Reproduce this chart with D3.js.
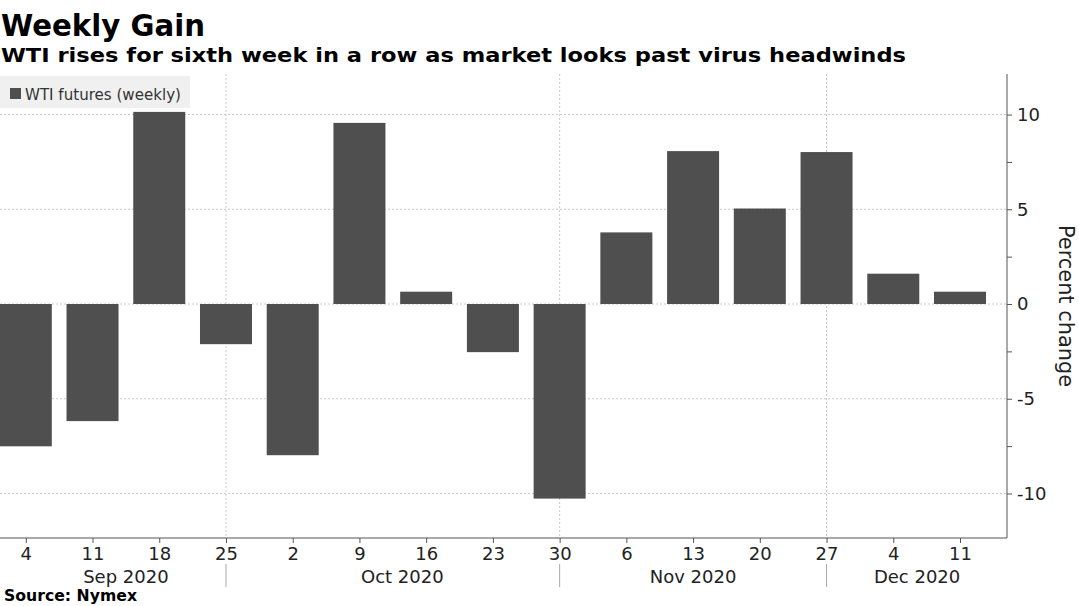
<!DOCTYPE html>
<html>
<head>
<meta charset="utf-8">
<script src="https://cdn.jsdelivr.net/npm/d3@7"></script>
<style>
  html, body { margin: 0; padding: 0; background: #fff; }
  svg { display: block; }
</style>
</head>
<body>
<svg id="chart" width="1079" height="606"></svg>
<script>
// ---- data ----
const weeks = ["2020-09-04","2020-09-11","2020-09-18","2020-09-25","2020-10-02","2020-10-09","2020-10-16",
               "2020-10-23","2020-10-30","2020-11-06","2020-11-13","2020-11-20","2020-11-27","2020-12-04","2020-12-11"];
const changes = [-7.51, -6.18, 10.14, -2.12, -7.98, 9.56, 0.65, -2.54, -10.27, 3.78, 8.07, 5.04, 8.02, 1.60, 0.65];
const yTickValues = [-10, -7.5, -5, -2.5, 0, 2.5, 5, 7.5, 10];
const yLabelValues = [-10, -5, 0, 5, 10];
const monthLabels = ["Sep 2020", "Oct 2020", "Nov 2020", "Dec 2020"];
const monthCenters = ["2020-09-14T12:00:00Z", "2020-10-13T12:00:00Z", "2020-11-13T00:00:00Z", "2020-12-06T12:00:00Z"];
const monthBreaks = ["2020-09-25", "2020-10-30", "2020-11-27"];
const titleText = "Weekly Gain";
const subtitleText = "WTI rises for sixth week in a row as market looks past virus headwinds";
const legendText = "WTI futures (weekly)";
const sourceText = "Source: Nymex";
const yAxisTitle = "Percent change";

// ---- setup ----
const svg = d3.select("#chart");
const FONT = "DejaVu Sans, Verdana, sans-serif";
const DAY = 864e5;
const parse = s => new Date(s.length === 10 ? s + "T00:00:00Z" : s);
const dates = weeks.map(parse);
const plot = { left: 0, right: 1007, top: 74, bottom: 538 };

const x = d3.scaleUtc()
  .domain([new Date(+dates[0] - 2.706 * DAY), new Date(+dates[dates.length - 1] + 4.93 * DAY)])
  .range([plot.left, plot.right]);
const y = d3.scaleLinear().domain([-12.35, 12.14]).range([plot.bottom, plot.top]);
const barDays = 5.455;

function squeeze(sel, w) {
  sel.attr("textLength", w).attr("lengthAdjust", "spacingAndGlyphs");
}

// clip
svg.append("defs").append("clipPath").attr("id", "clip")
  .append("rect").attr("x", plot.left).attr("y", plot.top)
  .attr("width", plot.right - plot.left).attr("height", plot.bottom - plot.top);

// horizontal gridlines
svg.append("g").selectAll("line").data(yLabelValues).join("line")
  .attr("x1", plot.left).attr("x2", plot.right)
  .attr("y1", d => y(d)).attr("y2", d => y(d))
  .attr("stroke", "#c8c8c8").attr("stroke-width", 1).attr("stroke-dasharray", "2,2");

// vertical month gridlines
svg.append("g").selectAll("line").data(monthBreaks.map(parse)).join("line")
  .attr("x1", d => x(d)).attr("x2", d => x(d))
  .attr("y1", plot.top).attr("y2", plot.bottom)
  .attr("stroke", "#c8c8c8").attr("stroke-width", 1).attr("stroke-dasharray", "2,2");

// bars
svg.append("g").attr("clip-path", "url(#clip)")
  .selectAll("rect").data(dates.map((d, i) => ({ d, v: changes[i] }))).join("rect")
  .attr("x", d => x(new Date(+d.d - barDays / 2 * DAY)))
  .attr("width", d => x(new Date(+d.d + barDays / 2 * DAY)) - x(new Date(+d.d - barDays / 2 * DAY)))
  .attr("y", d => y(Math.max(0, d.v)))
  .attr("height", d => Math.abs(y(d.v) - y(0)))
  .attr("fill", "#4f4f4f");

// right axis
const yAxis = d3.axisRight(y).tickValues(yTickValues).tickSize(5).tickPadding(5)
  .tickFormat(d => yLabelValues.includes(d) ? String(d) : "");
const gy = svg.append("g").attr("transform", `translate(${plot.right},0)`).call(yAxis);
gy.select(".domain").attr("stroke", "#555").attr("d", `M0,${plot.top}V${plot.bottom}`);
gy.selectAll(".tick line").attr("stroke", "#555");
gy.selectAll(".tick text").attr("font-family", FONT).attr("font-size", 18).attr("fill", "#222");

// bottom axis
const xAxis = d3.axisBottom(x).tickValues(dates).tickSize(5).tickPadding(4)
  .tickFormat(d3.utcFormat("%-d"));
const gx = svg.append("g").attr("transform", `translate(0,${plot.bottom})`).call(xAxis);
gx.select(".domain").attr("stroke", "#555").attr("d", `M${plot.left},0H${plot.right}`);
gx.selectAll(".tick line").attr("stroke", "#555");
gx.selectAll(".tick text").attr("font-family", FONT).attr("font-size", 18).attr("fill", "#222")
  .attr("dy", null).attr("y", 22);

// month separators below axis
svg.append("g").selectAll("line").data(monthBreaks.map(parse)).join("line")
  .attr("x1", d => x(d)).attr("x2", d => x(d))
  .attr("y1", 564).attr("y2", 587)
  .attr("stroke", "#aaa").attr("stroke-width", 1);

// month labels
svg.append("g").selectAll("text").data(monthLabels).join("text")
  .attr("x", (d, i) => x(parse(monthCenters[i])))
  .attr("y", 583).attr("text-anchor", "middle")
  .attr("font-family", FONT).attr("font-size", 18).attr("fill", "#222")
  .text(d => d);

// y axis title
const yt = svg.append("text")
  .attr("transform", `translate(1059,306) rotate(90)`)
  .attr("text-anchor", "middle")
  .attr("font-family", FONT).attr("font-size", 21).attr("fill", "#222")
  .text(yAxisTitle);
squeeze(yt, 162);

// legend
svg.append("rect").attr("x", 0).attr("y", 76).attr("width", 190).attr("height", 32).attr("fill", "#f0f0f0");
svg.append("rect").attr("x", 10).attr("y", 88).attr("width", 11).attr("height", 11).attr("fill", "#4f4f4f");
const lt = svg.append("text").attr("x", 25).attr("y", 100)
  .attr("font-family", FONT).attr("font-size", 16.5).attr("fill", "#333").text(legendText);
squeeze(lt, 156);

// titles
const t1 = svg.append("text").attr("x", 1).attr("y", 36)
  .attr("font-family", FONT).attr("font-weight", "bold").attr("font-size", 31).attr("fill", "#000")
  .text(titleText);
squeeze(t1, 204);
const t2 = svg.append("text").attr("x", 1).attr("y", 62)
  .attr("font-family", FONT).attr("font-weight", "bold").attr("font-size", 20).attr("fill", "#000")
  .text(subtitleText);
squeeze(t2, 905);
const src = svg.append("text").attr("x", 4).attr("y", 601)
  .attr("font-family", FONT).attr("font-weight", "bold").attr("font-size", 15.5).attr("fill", "#000")
  .text(sourceText);
squeeze(src, 133);
</script>
</body>
</html>
